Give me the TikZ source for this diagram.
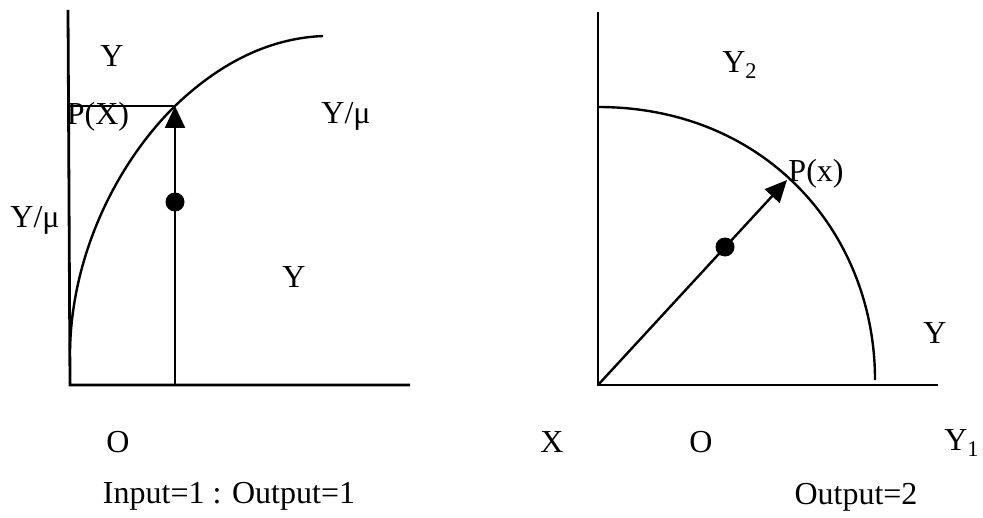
\documentclass[tikz,border=0pt]{standalone}
\usepackage{fontspec}
\setmainfont{Liberation Serif}
\usetikzlibrary{arrows.meta}

\tikzset{
  axis/.style={line width=1.4pt},
  curve/.style={line width=1.2pt},
  vec/.style={line width=1.2pt, -{Triangle[length=11pt,width=10pt]}},
  dot/.style={circle, fill, inner sep=0pt, minimum size=9.5pt},
  lbl/.style={inner sep=0pt, font=\fontsize{16}{18}\selectfont}
}

\begin{document}
\begin{tikzpicture}[x=0.5pt,y=-0.5pt]
  \useasboundingbox (0,0) rectangle (983,518);

  % left panel
  \coordinate (top1) at (68,10);
  \coordinate (O1) at (70,385);
  \coordinate (end1) at (410,385);
  \coordinate (lev1) at (70,106);
  \coordinate (P1) at (175,106);
  \coordinate (foot1) at (175,385);
  \coordinate (low1) at (70,350);
  \coordinate (hi1) at (323,36);
  \draw[axis] (top1) -- (O1) -- (end1);
  \draw[curve] (low1) .. controls (72,250) and (120,160) .. (P1)
    .. controls (225,58) and (275,38) .. (hi1);
  \draw[curve] (lev1) -- (P1);
  \draw[vec] (foot1) -- (P1);
  \node[dot] (d1) at (175,202) {};

  \node[lbl] (y1) at (112,56) {Y};
  \node[lbl] (px1) at (98,117) {P(X)};
  \node[lbl] (ym1) at (346,116) {Y/μ};
  \node[lbl] (ym2) at (35,220) {Y/μ};
  \node[lbl] (y2) at (294,277) {Y};
  \node[lbl] (o1) at (118,442) {O};
  \node[lbl] (cap1) at (229,496) {Input=1 : Output=1};

  % right panel
  \coordinate (top2) at (598,12);
  \coordinate (O2) at (598,385);
  \coordinate (end2) at (938,385);
  \coordinate (lev2) at (598,107);
  \coordinate (low2) at (875,380);
  \coordinate (P2) at (787,180);
  \draw[axis] (top2) -- (O2) -- (end2);
  \draw[curve] (lev2) .. controls (765,107) and (875,232) .. (low2);
  \draw[vec] (O2) -- (P2);
  \node[dot] (d2) at (725,247) {};

  \node[lbl] (y3) at (740,65) {Y\textsubscript{2}};
  \node[lbl] (px2) at (816,174) {P(x)};
  \node[lbl] (y4) at (935,333) {Y};
  \node[lbl] (x1) at (552,442) {X};
  \node[lbl] (o2) at (701,442) {O};
  \node[lbl] (y5) at (962,443) {Y\textsubscript{1}};
  \node[lbl] (cap2) at (856,497) {Output=2};
\end{tikzpicture}
\end{document}
